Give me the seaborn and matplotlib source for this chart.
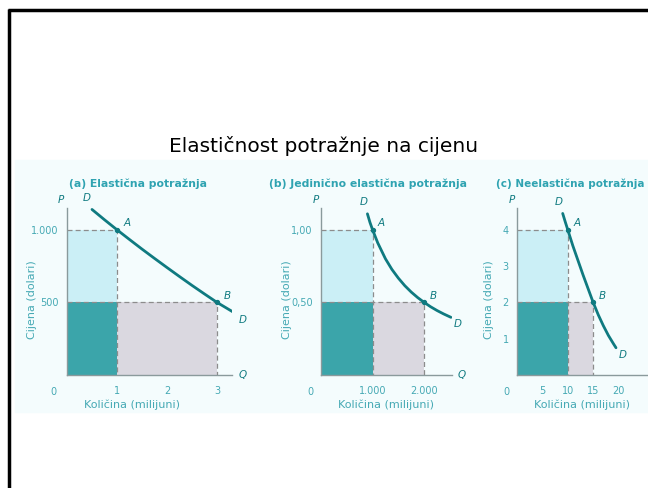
import numpy as np
import pandas as pd
import matplotlib
matplotlib.use("Agg")
import matplotlib.pyplot as plt
from matplotlib.patches import Rectangle
from matplotlib.lines import Line2D
import seaborn as sns

# --- data ---
# (a) elastic demand
a_q = [0.5, 0.75, 1.0, 1.25, 1.5, 1.75, 2.0, 2.25, 2.5, 2.75, 3.0, 3.35]
a_p = [1140, 1069, 1000, 933, 867, 803, 740, 678, 617, 558, 500, 428]
a_pts = {"A": (1.0, 1000), "B": (3.0, 500)}
a_yticks = [500, 1000]
a_yticklabels = ["500", "1.000"]
a_xticks = [1, 2, 3]
a_xticklabels = ["1", "2", "3"]

# (b) unit elastic demand
b_q = [900, 950, 1000, 1100, 1250, 1375, 1500, 1625, 1750, 1875, 2000, 2125, 2250, 2375, 2520]
b_p = [1.11, 1.05, 1.00, 0.91, 0.80, 0.727, 0.667, 0.615, 0.571, 0.533, 0.50, 0.47,
       0.444, 0.421, 0.397]
b_pts = {"A": (1000, 1.00), "B": (2000, 0.50)}
b_yticks = [0.5, 1.0]
b_yticklabels = ["0,50", "1,00"]
b_xticks = [1000, 2000]
b_xticklabels = ["1.000", "2.000"]

# (c) inelastic demand
c_q = [9.0, 9.5, 10.0, 11.0, 12.0, 13.0, 14.0, 15.0, 16.0, 17.0, 18.0, 19.0, 19.5]
c_p = [4.45, 4.22, 4.0, 3.56, 3.16, 2.76, 2.38, 2.0, 1.66, 1.36, 1.09, 0.86, 0.75]
c_pts = {"A": (10, 4), "B": (15, 2)}
c_yticks = [1, 2, 3, 4]
c_yticklabels = ["1", "2", "3", "4"]
c_xticks = [5, 10, 15, 20]
c_xticklabels = ["5", "10", "15", "20"]

titles = ["(a) Elastična potražnja", "(b) Jedinično elastična potražnja",
          "(c) Neelastična potražnja"]

DARK = "#3ba5aa"
LIGHT = "#cbeff6"
GREY = "#dad8e0"
CURVE = "#0f7a80"
TXT = "#45a9b4"
AXC = "#8a9a9c"

sns.set_style("white")
plt.rcParams["font.family"] = ["DejaVu Sans"]

W, H = 648, 488
fig = plt.figure(figsize=(W / 100, H / 100), dpi=100)

# slide background + frame
fig.patches.append(Rectangle((15 / W, 1 - 412 / H), (W - 15) / W, 252 / H,
                             transform=fig.transFigure, color="#f4fcfd", zorder=-5))
fig.add_artist(Line2D([8 / W, 1], [1 - 10 / H, 1 - 10 / H], color="black", lw=2.5,
                      solid_capstyle="butt"))
fig.add_artist(Line2D([8.5 / W, 8.5 / W], [0, 1 - 9 / H], color="black", lw=2.5,
                      solid_capstyle="butt"))

fig.text(324 / W, 1 - 146 / H, "Elastičnost potražnje na cijenu",
         ha="center", va="center", fontsize=14.5, color="black")

panels = [
    dict(left=67, right=232, q=a_q, p=a_p, pts=a_pts, xlim=3.3, ylim=1150,
         yt=a_yticks, ytl=a_yticklabels, xt=a_xticks, xtl=a_xticklabels,
         ylab_x=32, title_x=138, title_ha="center"),
    dict(left=321, right=452, q=b_q, p=b_p, pts=b_pts, xlim=2540, ylim=1.15,
         yt=b_yticks, ytl=b_yticklabels, xt=b_xticks, xtl=b_xticklabels,
         ylab_x=287, title_x=368, title_ha="center"),
    dict(left=517, right=649, q=c_q, p=c_p, pts=c_pts, xlim=26, ylim=4.6,
         yt=c_yticks, ytl=c_yticklabels, xt=c_xticks, xtl=c_xticklabels,
         ylab_x=489, title_x=496, title_ha="left"),
]

y0, ytop = 375, 208
for i, pn in enumerate(panels):
    ax = fig.add_axes([pn["left"] / W, 1 - y0 / H, (pn["right"] - pn["left"]) / W,
                       (y0 - ytop) / H], zorder=2)
    ax.set_facecolor("none")
    ax.set_xlim(0, pn["xlim"])
    ax.set_ylim(0, pn["ylim"])
    qa, pa = pn["pts"]["A"]
    qb, pb = pn["pts"]["B"]

    # revenue rectangles
    ax.bar([0], [pa - pb], width=qa, bottom=pb, align="edge", color=LIGHT, lw=0, zorder=1)
    ax.bar([0], [pb], width=qa, align="edge", color=DARK, lw=0, zorder=1)
    ax.bar([qa], [pb], width=qb - qa, align="edge", color=GREY, lw=0, zorder=1)

    # dashed guides
    ax.plot([0, qa, qa], [pa, pa, 0], ls=(0, (4, 2.5)), color="#8c8c8c", lw=0.9, zorder=2)
    ax.plot([0, qb, qb], [pb, pb, 0], ls=(0, (4, 2.5)), color="#8c8c8c", lw=0.9, zorder=2)

    # demand curve
    df = pd.DataFrame({"q": pn["q"], "p": pn["p"]})
    sns.lineplot(data=df, x="q", y="p", ax=ax, color=CURVE, lw=2.0, sort=False, zorder=3)
    ax.scatter([qa, qb], [pa, pb], s=8, color=CURVE, zorder=4)

    xr, yr = pn["xlim"], pn["ylim"]
    ax.text(qa + 0.04 * xr, pa + 0.02 * yr, "A", style="italic", fontsize=7.5, color=CURVE)
    ax.text(qb + 0.04 * xr, pb + 0.02 * yr, "B", style="italic", fontsize=7.5, color=CURVE)
    ax.text(pn["q"][0] - 0.03 * xr, pn["p"][0] + 0.05 * yr, "D", style="italic",
            fontsize=7.5, color=CURVE, ha="center")
    ax.text(pn["q"][-1] + 0.05 * xr, pn["p"][-1] - 0.06 * yr, "D", style="italic",
            fontsize=7.5, color=CURVE, ha="center")
    ax.text(-0.04 * xr, 1.03 * yr, "P", style="italic", fontsize=7.5, color=CURVE, ha="center")
    if i < 2:
        ax.text(1.04 * xr, 0, "Q", style="italic", fontsize=7.5, color=CURVE, va="center",
                clip_on=False)

    ax.set_xlabel("")
    ax.set_ylabel("")
    ax.set_yticks(pn["yt"])
    ax.set_yticklabels(pn["ytl"])
    ax.set_xticks(pn["xt"])
    ax.set_xticklabels(pn["xtl"])
    ax.tick_params(axis="both", length=0, labelsize=7, colors=TXT, pad=8)
    ax.tick_params(axis="y", pad=6)
    ax.text(-0.08 * xr, -0.1 * yr, "0", fontsize=7, color=TXT, ha="center", va="center")
    for s in ["top", "right"]:
        ax.spines[s].set_visible(False)
    for s in ["left", "bottom"]:
        ax.spines[s].set_color(AXC)
        ax.spines[s].set_linewidth(1.0)

    fig.text(pn["ylab_x"] / W, 1 - 300 / H, "Cijena (dolari)", rotation=90,
             ha="center", va="center", fontsize=8, color=TXT)
    fig.text((pn["left"] + 65) / W, 1 - 405 / H, "Količina (milijuni)",
             ha="center", va="center", fontsize=8, color=TXT)
    fig.text(pn["title_x"] / W, 1 - 184 / H, titles[i], ha=pn["title_ha"],
             va="center", fontsize=7.8 if i < 2 else 7.5, fontweight="bold", color="#2fa3b1")

fig.savefig("out.png", dpi=100)
